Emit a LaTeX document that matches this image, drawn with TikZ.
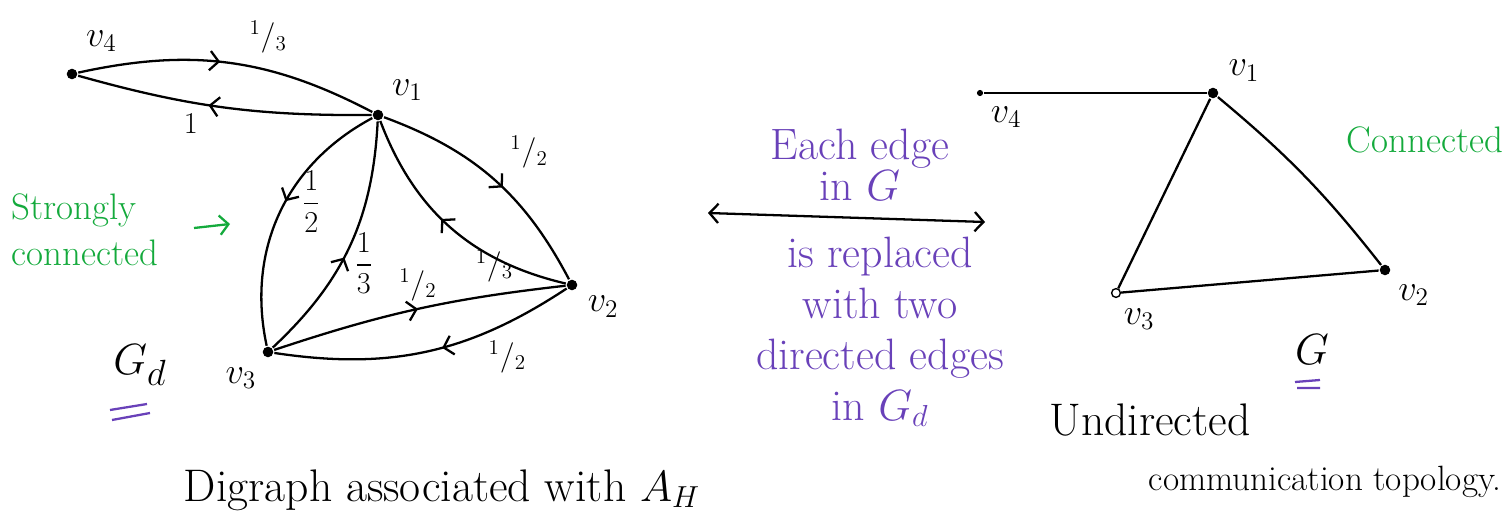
\documentclass[tikz,border=0pt]{standalone}
\usepackage{amsmath,amssymb}
\usepackage{tikz}
\usetikzlibrary{arrows.meta,decorations.markings}
\definecolor{grn}{RGB}{20,170,60}
\definecolor{prp}{RGB}{105,65,185}
\newcommand{\hfr}[2]{${}^{#1}/{}_{#2}$}
\tikzset{
 vx/.style={circle,fill=black,inner sep=0pt,minimum size=6pt},
 sx/.style={circle,fill=black,inner sep=0pt,minimum size=3.5pt},
 wx/.style={circle,draw,thick,fill=white,inner sep=0pt,minimum size=5pt},
 wt/.style={font=\fontsize{18}{20}\selectfont,inner sep=1pt},
 note/.style={font=\fontsize{25}{29}\selectfont,align=center},
 barb/.style={-{Straight Barb[length=5pt,width=11pt]}},
 fwd/.style={postaction={decorate},decoration={markings,
   mark=at position #1 with {\arrow{Straight Barb[length=5pt,width=11pt]}}}}}
\begin{document}
\begin{tikzpicture}[x=0.02cm,y=-0.02cm,line width=1.3pt,label distance=2pt,
  font=\fontsize{20}{24}\selectfont]
 \useasboundingbox (0,0) rectangle (1509,527);
 % digraph G_d
 \node[vx,label={[label distance=6pt]65:{$v_4$}}] (a4) at (72,74) {};
 \node[vx,label={45:{$v_1$}}] (a1) at (378,115) {};
 \node[vx,label={-25:{$v_2$}}] (a2) at (572,285) {};
 \node[vx,label={-120:{$v_3$}}] (a3) at (268,352) {};
 \draw[fwd=0.47] (a4) to[bend left=20] node[wt,pos=0.64,above=8pt] {\hfr{1}{3}} (a1);
 \draw[fwd=0.55] (a1) to[bend left=8] node[wt,pos=0.62,below=5pt] {$1$} (a4);
 \draw[fwd=0.45] (a1) to[bend right=37] node[wt,pos=0.45,right=8pt] {$\dfrac{1}{2}$} (a3);
 \draw[fwd=0.45] (a3) to[bend right=22] node[wt,pos=0.42,right=6pt] {$\dfrac{1}{3}$} (a1);
 \draw[fwd=0.55] (a1) to[bend left=21] node[wt,pos=0.52,above right=6pt] {\hfr{1}{2}} (a2);
 \draw[fwd=0.55] (a2) to[bend left=28] node[wt,pos=0.42,below right=4pt] {\hfr{1}{3}} (a1);
 \draw[fwd=0.5] (a3) to[bend left=6] node[wt,pos=0.5,above=3pt] {\hfr{1}{2}} (a2);
 \draw[fwd=0.45] (a2) to[bend left=21] node[wt,pos=0.3,below right=2pt] {\hfr{1}{2}} (a3);
 \node[font=\fontsize{28}{30}\selectfont] (gd) at (140,365) {$G_d$};
 \draw[prp] (110,410) -- (147,404) (112,420) -- (150,413);
 \node[grn,align=left,anchor=west,font=\fontsize{21}{26}\selectfont] (sc) at (5,230) {Strongly\\connected};
 \coordinate (sa) at (194,228);
 \coordinate (sb) at (230,224);
 \draw[grn,barb] (sa) -- (sb);
 \node[font=\fontsize{26}{30}\selectfont] (dg) at (442,490) {Digraph associated with $A_H$};
 % middle
 \coordinate (la) at (708,213);
 \coordinate (ra) at (985,222);
 \draw[{Straight Barb[length=5pt,width=11pt]}-{Straight Barb[length=5pt,width=11pt]}] (la) -- (ra);
 \node[note,prp,font=\fontsize{25}{20}\selectfont] (n1) at (860,165) {Each edge\\in $G$};
 \node[note,prp] (n2) at (880,332) {is replaced\\with two\\directed edges\\in $G_d$};
 % undirected G
 \node[sx,label={-60:{$v_4$}}] (b4) at (980,93) {};
 \node[vx,label={30:{$v_1$}}] (b1) at (1213,93) {};
 \node[vx,label={-50:{$v_2$}}] (b2) at (1385,270) {};
 \node[wx,label={-85:{$v_3$}}] (b3) at (1116,293) {};
 \draw (b4) -- (b1);
 \draw (b1) to[bend left=6] (b2);
 \draw (b1) -- (b3);
 \draw (b3) -- (b2);
 \node[font=\fontsize{28}{30}\selectfont] (gg) at (1312,350) {$G$};
 \draw[prp] (1295,382) -- (1320,380) (1297,388) -- (1320,388);
 \node[grn,font=\fontsize{21}{24}\selectfont] (cn) at (1425,140) {Connected};
 \node[font=\fontsize{26}{30}\selectfont] (ud) at (1150,420) {Undirected};
 \node[font=\fontsize{20}{24}\selectfont] (ct) at (1325,482) {communication topology.};
\end{tikzpicture}
\end{document}
